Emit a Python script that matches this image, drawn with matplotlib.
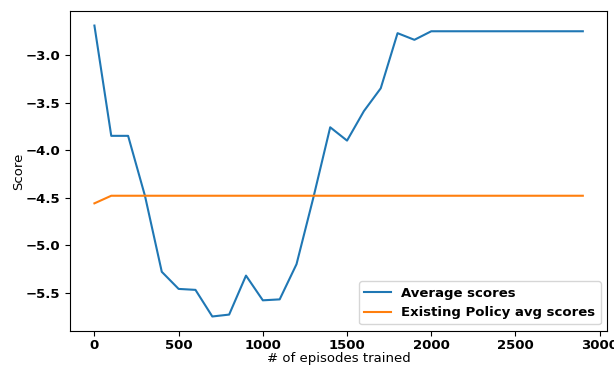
import matplotlib
matplotlib.use('Agg')
import matplotlib.pyplot as plt
import numpy as np

# episodes trained (every 100)
episodes = np.arange(0, 3000, 100)

avg_scores = [-2.69, -3.85, -3.85, -4.48, -5.28, -5.46, -5.47, -5.75, -5.73, -5.32,
              -5.58, -5.57, -5.20, -4.50, -3.76, -3.90, -3.59, -3.35, -2.77, -2.84,
              -2.75, -2.75, -2.75, -2.75, -2.75, -2.75, -2.75, -2.75, -2.75, -2.75]

policy_scores = [-4.56] + [-4.48] * 29

fig = plt.figure(figsize=(6.14, 3.67), dpi=100)
ax = fig.add_axes([0.114, 0.098, 0.875, 0.872])

ax.plot(episodes, avg_scores, label='Average scores')
ax.plot(episodes, policy_scores, label='Existing Policy avg scores')

ax.set_xticks([0, 500, 1000, 1500, 2000, 2500, 3000])
ax.set_yticks([-3.0, -3.5, -4.0, -4.5, -5.0, -5.5])
ax.tick_params(axis='x', pad=2)
for lbl in ax.get_xticklabels() + ax.get_yticklabels():
    lbl.set_fontweight('bold')
    lbl.set_fontsize(9.5)

ax.set_xlabel('# of episodes trained', fontsize=9.5, labelpad=0)
ax.set_ylabel('Score', fontsize=9.5, labelpad=0)

ax.legend(loc='lower right', prop={'weight': 'bold', 'size': 9.5})

fig.savefig('out.png', dpi=100)
